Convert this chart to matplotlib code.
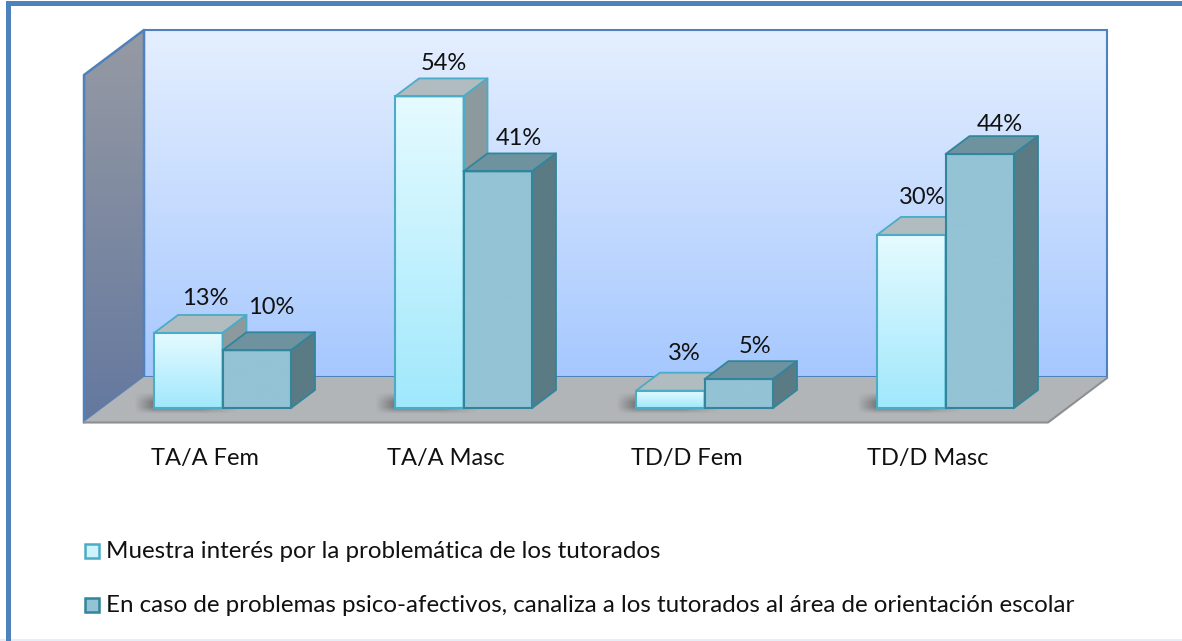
import numpy as np
import matplotlib
matplotlib.use('Agg')
import matplotlib.pyplot as plt
from matplotlib.patches import Polygon, Rectangle
from matplotlib.colors import LinearSegmentedColormap

# datos
categories = ['TA/A Fem', 'TA/A Masc', 'TD/D Fem', 'TD/D Masc']
interes = [13, 54, 3, 30]
canaliza = [10, 41, 5, 44]
series_names = ['Muestra interés por la problemática de los tutorados',
                'En caso de problemas psico-afectivos, canaliza a los tutorados al área de orientación escolar']

plt.rcParams['font.family'] = ['Lato', 'DejaVu Sans']

W, H = 1182, 641
BASE = 408      # y del pie de las barras
SCALE = 5.77    # px por punto porcentual
DX, DY = 24, -18
BAR_W = 68.5
FIRST = 154
PITCH = 241
FS = 17
FS_LEG = 17.4

# colocacion a mano de las etiquetas (desde la barra)
label_dx_a = [51, 48.5, 48, 45]
label_dy_a = [34, 33, 37, 37]
label_dx_b = [48.5, 55, 50.5, 54.5]
label_dy_b = [43, 33, 33, 30]

fig = plt.figure(figsize=(W / 100, H / 100), dpi=100)
ax = fig.add_axes([0, 0, 1, 1])
ax.set_xlim(0, W)
ax.set_ylim(H, 0)
ax.axis('off')


def gradient(poly, c1, c2, extent, z=1):
    cmap = LinearSegmentedColormap.from_list('g', [c1, c2])
    g = np.linspace(0, 1, 256).reshape(-1, 1)
    im = ax.imshow(g, cmap=cmap, extent=extent, aspect='auto', zorder=z, vmin=0, vmax=1)
    patch = Polygon(poly, closed=True, transform=ax.transData, fc='none', ec='none')
    ax.add_patch(patch)
    im.set_clip_path(patch)
    ax.set_xlim(0, W)
    ax.set_ylim(H, 0)


def shadow(x0):
    # sombra difusa bajo la barra clara
    xs = np.linspace(0, 1, 120)
    ys = np.linspace(0, 1, 30)
    ax_x = np.clip(xs / 0.18, 0, 1) * np.clip((1 - xs) / 0.35, 0, 1)
    ax_y = np.clip(ys / 0.45, 0, 1) * np.clip((1 - ys) / 0.3, 0, 1)
    rgba = np.zeros((30, 120, 4))
    rgba[..., :3] = 0.25
    rgba[..., 3] = 0.5 * np.outer(ax_y, ax_x)
    ax.imshow(rgba, extent=(x0 - 20, x0 + 85, 414, 392), aspect='auto', zorder=3)
    ax.set_xlim(0, W)
    ax.set_ylim(H, 0)


# marco exterior
ax.add_patch(Rectangle((0, 639), W, 2, fc='#e6eef8', ec='none', zorder=0))
ax.add_patch(Rectangle((6, 1), W, 5, fc='#4f81bd', ec='none', zorder=1))
ax.add_patch(Rectangle((6, 1), 5, 640, fc='#4f81bd', ec='none', zorder=1))

# paredes y suelo
wall = [(144, 30), (1107, 30), (1107, 377), (144, 377)]
gradient(wall, '#e5efff', '#a6c8fe', (144, 1107, 377, 30))
ax.add_patch(Polygon(wall, closed=True, fc='none', ec='#4f81bd', lw=1.5, zorder=2))

left = [(84, 75), (144, 30), (144, 377), (84, 422)]
gradient(left, '#969aa3', '#64789f', (84, 144, 422, 30))
ax.plot([84, 84, 144, 144], [422, 75, 30, 377], color='#4f81bd', lw=1.8, zorder=2)
ax.plot([84, 144], [422, 377], color='#5b8ac2', lw=1, zorder=2)

floor = [(84, 422), (144, 377), (1107, 377), (1048, 422)]
ax.add_patch(Polygon(floor, closed=True, fc='#b2b5b8', ec='none', zorder=2))
ax.plot([84, 1048, 1107], [422.5, 422.5, 378], color='#8c8e90', lw=1.5, zorder=2)


def bar3d(x, value, front_c1, front_c2, top_c, side_c, edge, z):
    top = BASE - value * SCALE
    xr = x + BAR_W
    gradient([(x, top), (xr, top), (xr, BASE), (x, BASE)], front_c1, front_c2, (x, xr, BASE, top), z=z)
    ax.add_patch(Polygon([(x, top), (xr, top), (xr + DX, top + DY), (x + DX, top + DY)],
                         closed=True, fc=top_c, ec=edge, lw=1.3, zorder=z, joinstyle='round'))
    ax.add_patch(Polygon([(xr, top), (xr + DX, top + DY), (xr + DX, BASE + DY), (xr, BASE)],
                         closed=True, fc=side_c, ec=edge, lw=1.3, zorder=z, joinstyle='round'))
    ax.add_patch(Rectangle((x, top), BAR_W, BASE - top, fc='none', ec=edge, lw=1.5, zorder=z + 0.5))


for i, cat in enumerate(categories):
    x0 = FIRST + i * PITCH
    shadow(x0)
    bar3d(x0, interes[i], '#e6fbff', '#a0e8fc', '#b0bcbf', '#8c9a9e', '#4bacc6', 5)
    bar3d(x0 + BAR_W, canaliza[i], '#93c3d4', '#93c3d4', '#6e939f', '#5a7a84', '#31859c', 6)
    ya = BASE - interes[i] * SCALE - label_dy_a[i]
    yb = BASE - canaliza[i] * SCALE - label_dy_b[i]
    ax.text(x0 + label_dx_a[i], ya, f'{interes[i]}%', ha='center', va='center',
            fontsize=FS, color='#111111', zorder=8)
    ax.text(x0 + BAR_W + label_dx_b[i], yb, f'{canaliza[i]}%', ha='center', va='center',
            fontsize=FS, color='#111111', zorder=8)
    ax.text(x0 + 51, 458.5, cat, ha='center', va='center', fontsize=FS, color='#111111', zorder=8)

# leyenda
for y, name, fc, ec in [(551, series_names[0], '#cdf3fd', '#4bacc6'), (604.5, series_names[1], '#93c3d4', '#31859c')]:
    ax.add_patch(Rectangle((84.5, y - 7), 14, 14, fc=fc, ec=ec, lw=1.8, zorder=5))
    ax.text(106.5, y + 1, name, ha='left', va='center', fontsize=FS_LEG, color='#111111', zorder=8)

fig.savefig('out.png', dpi=100)
